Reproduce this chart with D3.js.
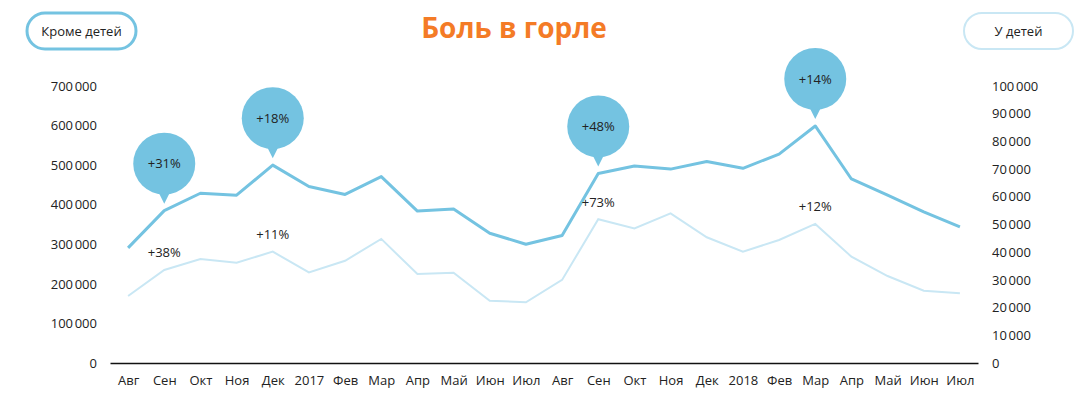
<!DOCTYPE html>
<html>
<head>
<meta charset="utf-8">
<script src="https://cdn.jsdelivr.net/npm/d3@7"></script>
<style>
	body { margin: 0; background: #fff; font-family: 'Open Sans', sans-serif; }
	svg text { fill: #222; }
</style>
</head>
<body>
<svg id="chart" width="1086" height="410"></svg>
<script>
// months Aug 2016 .. Jul 2018
const months = ['Авг', 'Сен', 'Окт', 'Ноя', 'Дек', '2017', 'Фев', 'Мар', 'Апр', 'Май', 'Июн', 'Июл',
	'Авг ', 'Сен ', 'Окт ', 'Ноя ', 'Дек ', '2018', 'Фев ', 'Мар ', 'Апр ', 'Май ', 'Июн ', 'Июл '];
const adults = [291000, 385000, 429000, 424000, 500000, 446000, 426000, 471000, 384000, 389000, 328000, 300000,
	322000, 479000, 498000, 490000, 509000, 492000, 528000, 599000, 465000, 424000, 382000, 344000];
const kids = [24200, 33600, 37500, 36200, 40200, 32700, 36900, 44800, 32100, 32600, 22500, 21900,
	30000, 51900, 48600, 54000, 45400, 40200, 44400, 50200, 38400, 31400, 26100, 25200];
const leftTicks = [0, 100000, 200000, 300000, 400000, 500000, 600000, 700000];
const rightTicks = [0, 10000, 20000, 30000, 40000, 50000, 60000, 70000, 80000, 90000, 100000];
// annotations: index into months, bubble text for adults, label for kids
const notes = [
	{ i: 1, adult: '+31%', kid: '+38%' },
	{ i: 4, adult: '+18%', kid: '+11%' },
	{ i: 13, adult: '+48%', kid: '+73%' },
	{ i: 19, adult: '+14%', kid: '+12%' },
];

const dark = '#74c3e1';
const light = '#c9e7f4';

const svg = d3.select('svg#chart');
const yTop = 86, yBottom = 363, xLeft = 110, xRight = 978;

const x = d3.scalePoint(months, [xLeft, xRight]).padding(0.5);
const yL = d3.scaleLinear([0, 700000], [yBottom, yTop]);
const yR = d3.scaleLinear([0, 100000], [yBottom, yTop]);
const fmt = v => d3.format(',')(v).replace(/,/g, '\u202f');

// title
svg.append('text')
	.attr('x', 514).attr('y', 38)
	.attr('text-anchor', 'middle')
	.style('fill', '#f47b26')
	.style('font-size', '28px')
	.style('font-weight', 'bold')
	.text('Боль в горле');

// legend pills
const pills = [
	{ label: 'Кроме детей', x: 27, color: dark, w: 3 },
	{ label: 'У детей', x: 964, color: light, w: 2 },
];
const pill = svg.selectAll('g.pill').data(pills).join('g')
	.attr('class', 'pill')
	.attr('transform', d => `translate(${d.x}, 13)`);
pill.append('rect')
	.attr('width', 109).attr('height', 36).attr('rx', 18)
	.attr('fill', '#fff')
	.attr('stroke', d => d.color)
	.attr('stroke-width', d => d.w);
pill.append('text')
	.attr('x', 54.5).attr('y', 23)
	.attr('text-anchor', 'middle')
	.style('font-size', '13px')
	.text(d => d.label);

// axes
const axisL = svg.append('g')
	.attr('transform', `translate(${xLeft}, 0)`)
	.call(d3.axisLeft(yL).tickValues(leftTicks).tickFormat(fmt).tickSize(0).tickPadding(13));
const axisR = svg.append('g')
	.attr('transform', `translate(${xRight}, 0)`)
	.call(d3.axisRight(yR).tickValues(rightTicks).tickFormat(fmt).tickSize(0).tickPadding(14));
const axisX = svg.append('g')
	.attr('transform', `translate(0, ${yBottom})`)
	.call(d3.axisBottom(x).tickSize(0).tickPadding(10));
[axisL, axisR].forEach(a => a.select('.domain').remove());
axisX.select('.domain').attr('stroke', '#111').attr('stroke-width', 1.5);
svg.selectAll('.tick text')
	.style('font-family', "'Open Sans', sans-serif")
	.style('font-size', '13px')
	.style('fill', '#222');
axisX.selectAll('.tick text').attr('dy', '0.9em');

// lines
const line = y => d3.line().x((d, i) => x(months[i])).y(d => y(d));
svg.append('path').datum(kids)
	.attr('d', line(yR))
	.attr('fill', 'none').attr('stroke', light).attr('stroke-width', 2);
svg.append('path').datum(adults)
	.attr('d', line(yL))
	.attr('fill', 'none').attr('stroke', dark).attr('stroke-width', 3)
	.attr('stroke-linejoin', 'round');

// annotations
const r = 31;
const bub = svg.selectAll('g.bubble').data(notes).join('g')
	.attr('class', 'bubble')
	.attr('transform', d => `translate(${x(months[d.i])}, ${yL(adults[d.i]) - 7})`);
bub.append('path')
	.attr('d', `M0,0 L-7,-14 L7,-14 Z`)
	.attr('fill', dark);
bub.append('circle')
	.attr('cy', -(r + 9)).attr('r', r)
	.attr('fill', dark);
bub.append('text')
	.attr('y', -(r + 9)).attr('dy', '0.35em')
	.attr('text-anchor', 'middle')
	.style('font-size', '13px')
	.text(d => d.adult);

svg.selectAll('text.kid').data(notes).join('text')
	.attr('class', 'kid')
	.attr('x', d => x(months[d.i]))
	.attr('y', d => yR(kids[d.i]) - 17)
	.attr('dy', '0.35em')
	.attr('text-anchor', 'middle')
	.style('font-size', '13px')
	.text(d => d.kid);
</script>
</body>
</html>
